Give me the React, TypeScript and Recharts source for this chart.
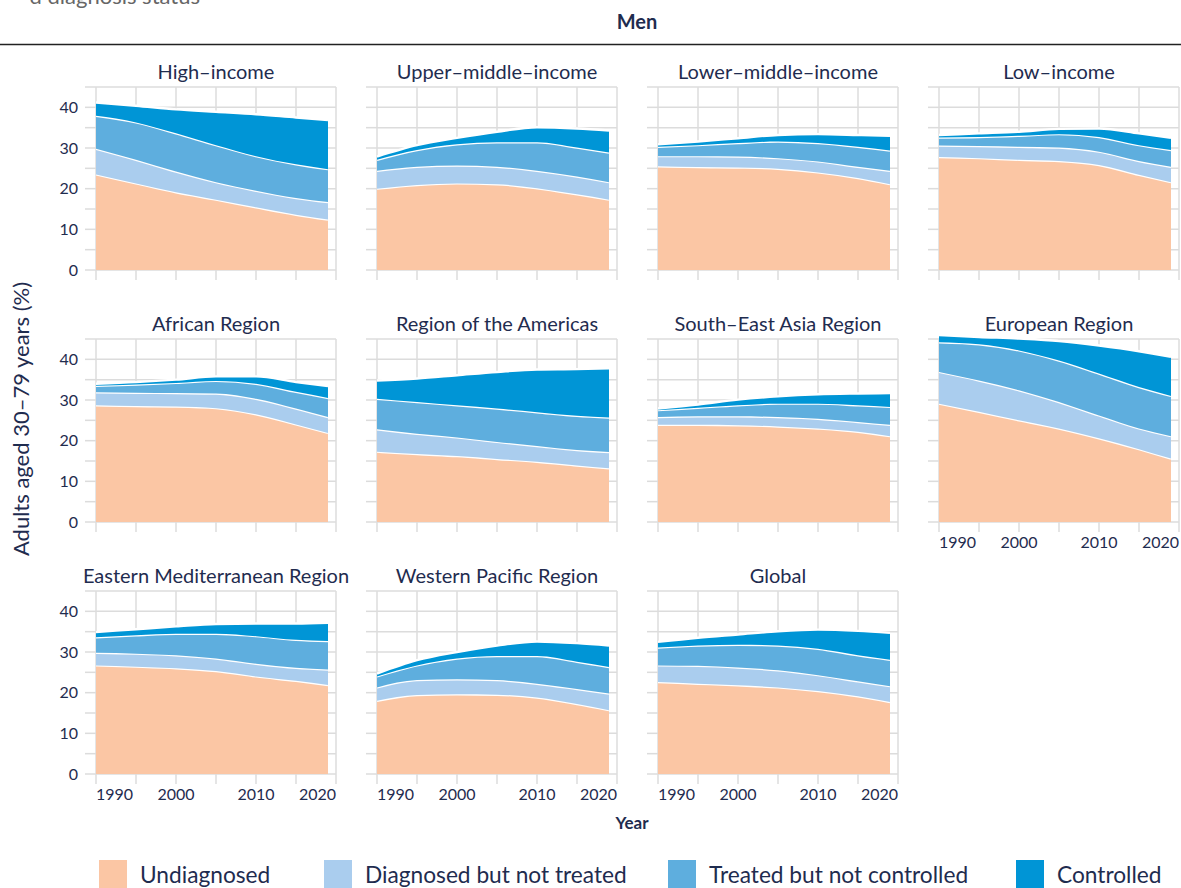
import { AreaChart, Area, XAxis, YAxis, CartesianGrid } from 'recharts';

const years = [1990, 1995, 2000, 2005, 2010, 2015, 2019];
const xTicks = [1990, 1995, 2000, 2005, 2010, 2015, 2020];
const xLabels = [1990, 2000, 2010, 2020];
const yTicks = [0, 5, 10, 15, 20, 25, 30, 35, 40, 45];
const yLabels = [0, 10, 20, 30, 40];

const panelTitles = [
  'High–income',
  'Upper–middle–income',
  'Lower–middle–income',
  'Low–income',
  'African Region',
  'Region of the Americas',
  'South–East Asia Region',
  'European Region',
  'Eastern Mediterranean Region',
  'Western Pacific Region',
  'Global',
];

// one row per panel, one value per year in `years`
const undiagnosed = [
  [23.5, 21.3, 19.1, 17.3, 15.4, 13.6, 12.4],
  [20.0, 20.9, 21.3, 21.1, 20.1, 18.6, 17.3],
  [25.5, 25.3, 25.2, 24.9, 24.0, 22.6, 21.1],
  [27.8, 27.5, 27.1, 26.8, 25.8, 23.4, 21.6],
  [28.7, 28.5, 28.4, 28.0, 26.5, 24.0, 21.9],
  [17.3, 16.7, 16.2, 15.5, 14.8, 13.9, 13.2],
  [23.9, 23.9, 23.8, 23.5, 23.0, 22.2, 21.1],
  [29.1, 27.1, 25.0, 23.0, 20.6, 17.9, 15.6],
  [26.7, 26.4, 26.0, 25.3, 24.0, 22.9, 21.9],
  [18.0, 19.4, 19.6, 19.5, 18.8, 17.2, 15.7],
  [22.6, 22.2, 21.8, 21.3, 20.4, 19.1, 17.7],
];

const diagnosedNotTreated = [
  [6.3, 5.8, 5.1, 4.3, 4.1, 4.1, 4.3],
  [4.4, 4.5, 4.4, 4.3, 4.3, 4.4, 4.3],
  [2.5, 2.7, 2.7, 2.6, 2.7, 2.8, 3.3],
  [2.8, 3.0, 3.2, 3.3, 3.3, 3.4, 3.8],
  [3.2, 3.3, 3.3, 3.6, 3.8, 3.9, 3.9],
  [5.5, 5.0, 4.6, 4.2, 3.9, 3.8, 4.0],
  [1.9, 2.1, 2.2, 2.3, 2.4, 2.4, 2.8],
  [7.8, 7.7, 7.4, 6.5, 5.6, 5.1, 5.5],
  [3.1, 3.2, 3.2, 3.1, 3.1, 3.2, 3.8],
  [3.3, 3.7, 3.7, 3.6, 3.4, 3.7, 4.1],
  [4.1, 4.4, 4.4, 4.2, 3.9, 3.7, 3.9],
];

const treatedNotControlled = [
  [8.1, 9.2, 9.4, 9.1, 8.5, 8.3, 8.1],
  [2.7, 4.1, 5.2, 6.0, 7.0, 7.1, 7.3],
  [2.3, 2.7, 3.3, 4.1, 4.5, 4.9, 5.0],
  [2.0, 2.2, 2.7, 3.3, 3.6, 3.9, 4.1],
  [1.6, 2.0, 2.5, 3.1, 3.7, 4.1, 4.7],
  [7.5, 7.8, 7.9, 8.2, 8.3, 8.4, 8.5],
  [1.7, 2.1, 2.7, 3.3, 3.7, 4.1, 4.4],
  [7.3, 8.9, 9.8, 10.2, 10.3, 10.2, 9.9],
  [3.8, 4.5, 5.3, 6.1, 6.8, 6.9, 7.0],
  [2.7, 3.6, 5.1, 5.9, 6.8, 6.7, 6.5],
  [4.4, 5.0, 5.6, 6.1, 6.5, 6.4, 6.5],
];

const controlled = [
  [3.3, 4.1, 5.9, 8.2, 10.3, 11.5, 12.1],
  [0.8, 1.2, 1.6, 2.6, 3.7, 4.7, 5.4],
  [0.6, 0.9, 1.2, 1.6, 2.2, 2.9, 3.6],
  [0.6, 0.9, 1.0, 1.3, 2.1, 2.9, 3.0],
  [0.5, 0.6, 0.8, 1.1, 1.8, 2.4, 2.9],
  [4.5, 5.8, 7.4, 9.0, 10.5, 11.5, 12.1],
  [0.4, 0.8, 1.4, 1.8, 2.3, 2.9, 3.4],
  [1.8, 1.8, 2.9, 4.8, 6.9, 8.8, 9.6],
  [1.3, 1.5, 1.8, 2.4, 3.1, 4.0, 4.5],
  [0.7, 1.3, 1.6, 2.6, 3.6, 4.6, 5.3],
  [1.4, 1.9, 2.5, 3.5, 4.7, 6.0, 6.6],
];

const series = [
  { key: 'u', name: 'Undiagnosed', color: '#fbc6a4', values: undiagnosed },
  { key: 'd', name: 'Diagnosed but not treated', color: '#aacdee', values: diagnosedNotTreated },
  { key: 't', name: 'Treated but not controlled', color: '#5eaede', values: treatedNotControlled },
  { key: 'c', name: 'Controlled', color: '#0095d6', values: controlled },
];

const FONT = 'Lato, sans-serif';
const INK = '#1f2c4f';
const GRID = '#dcdcdc';

const colLeft = [96, 377, 658, 939];
const rowZero = [270, 522, 774];
const PLOT_W = 240;
const PLOT_H = 183;
const Y_AXIS_W = 60;
const TOP_PAD = 10;
const X_AXIS_H = 40;

function XTick(props: any) {
  const { x, y, payload, show } = props;
  const v = payload.value;
  if (!show || !xLabels.includes(v)) return <g />;
  const anchor = v === 1990 ? 'start' : v === 2020 ? 'end' : 'middle';
  return (
    <text x={x} y={y} dy="0.75em" textAnchor={anchor} fontFamily={FONT} fontSize={16} fill={INK}>
      {v}
    </text>
  );
}

function YTick(props: any) {
  const { x, y, payload, show } = props;
  const v = payload.value;
  if (!show || !yLabels.includes(v)) return <g />;
  return (
    <text x={x} y={y} dy="0.36em" textAnchor="end" fontFamily={FONT} fontSize={16} fill={INK}>
      {v}
    </text>
  );
}

function Panel({ idx, showX, showY }: { idx: number; showX: boolean; showY: boolean }) {
  const col = idx % 4;
  const row = Math.floor(idx / 4);
  const left = colLeft[col] - Y_AXIS_W;
  const top = rowZero[row] - PLOT_H - TOP_PAD;
  const data = years.map((year, i) => {
    const rec: any = { year };
    series.forEach((s) => {
      rec[s.key] = s.values[idx][i];
    });
    return rec;
  });
  return (
    <div style={{ position: 'absolute', left, top }}>
      <div
        style={{
          position: 'absolute',
          left: Y_AXIS_W + PLOT_W / 2,
          top: -18,
          transform: 'translateX(-50%)',
          fontFamily: FONT,
          fontSize: 20,
          lineHeight: '24px',
          color: INK,
          whiteSpace: 'nowrap',
        }}
      >
        {panelTitles[idx]}
      </div>
      <AreaChart
        width={Y_AXIS_W + PLOT_W + 10}
        height={TOP_PAD + PLOT_H + X_AXIS_H}
        data={data}
        margin={{ top: TOP_PAD, right: 10, left: 0, bottom: 0 }}
      >
        <CartesianGrid stroke={GRID} strokeWidth={1.5} />
        <XAxis
          dataKey="year"
          type="number"
          domain={[1990, 2020]}
          ticks={xTicks}
          interval={0}
          height={X_AXIS_H}
          tickSize={10}
          tickMargin={4}
          axisLine={false}
          tickLine={{ stroke: GRID, strokeWidth: 1.5 }}
          tick={<XTick show={showX} />}
        />
        <YAxis
          type="number"
          domain={[0, 45]}
          allowDataOverflow
          ticks={yTicks}
          interval={0}
          width={Y_AXIS_W}
          tickSize={11}
          tickMargin={7}
          axisLine={false}
          tickLine={{ stroke: GRID, strokeWidth: 1.5 }}
          tick={<YTick show={showY} />}
        />
        {series.map((s) => (
          <Area
            key={s.key}
            dataKey={s.key}
            name={s.name}
            stackId="1"
            type="monotone"
            fill={s.color}
            fillOpacity={1}
            stroke="#ffffff"
            strokeWidth={2.4}
            isAnimationActive={false}
          />
        ))}
      </AreaChart>
    </div>
  );
}

export default function App() {
  return (
    <div
      style={{
        position: 'absolute',
        left: 0,
        top: 0,
        width: 1181,
        height: 888,
        overflow: 'hidden',
        background: '#fff',
        fontFamily: FONT,
      }}
    >
      <style>{`.recharts-area, .recharts-area > g { clip-path: none !important; }`}</style>
      <svg width={1181} height={888} style={{ position: 'absolute', left: 0, top: 0 }}>
        <text x={200} y={4} textAnchor="end" fontFamily={FONT} fontSize={22} fill="#666">
          d diagnosis status
        </text>
        <text x={637} y={29} textAnchor="middle" fontFamily={FONT} fontSize={20} fontWeight={700} fill={INK}>
          Men
        </text>
        <line x1={0} x2={1181} y1={44.5} y2={44.5} stroke="#222" strokeWidth={1.6} />
        <text
          transform="translate(29,419) rotate(-90)"
          textAnchor="middle"
          fontFamily={FONT}
          fontSize={22}
          fill={INK}
        >
          Adults aged 30–79 years (%)
        </text>
        <text x={632} y={829} textAnchor="middle" fontFamily={FONT} fontSize={17} fontWeight={700} fill={INK}>
          Year
        </text>
        {series.map((s, i) => {
          const sx = [99, 324, 668, 1016][i];
          return (
            <g key={s.key}>
              <rect x={sx} y={860} width={28} height={30} fill={s.color} />
              <text x={sx + 41} y={883} fontFamily={FONT} fontSize={22.7} fill={INK}>
                {s.name}
              </text>
            </g>
          );
        })}
      </svg>
      {panelTitles.map((_, idx) => (
        <Panel key={idx} idx={idx} showX={idx >= 7} showY={idx % 4 === 0} />
      ))}
    </div>
  );
}
